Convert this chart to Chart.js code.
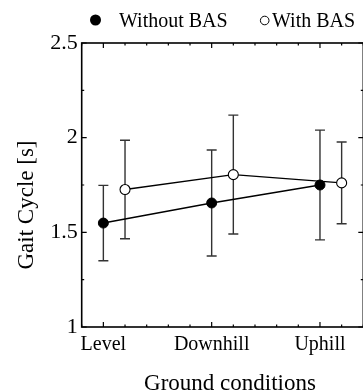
<!DOCTYPE html>
<html>
<head>
<meta charset="utf-8">
<script src="https://cdn.jsdelivr.net/npm/chart.js@4"></script>
<style>
html,body{margin:0;padding:0;background:#fff;overflow:hidden;width:363px;height:392px;}
canvas{display:block;}
</style>
</head>
<body>
<canvas id="c" width="370" height="392"></canvas>
<script>
const categories = ['Level', 'Downhill', 'Uphill'];
const withoutMean = [1.549, 1.655, 1.750];
const withoutSD = [0.199, 0.280, 0.290];
const withMean = [1.726, 1.805, 1.761];
const withSD = [0.260, 0.314, 0.216];
const yTickLabels = [1, 1.5, 2, 2.5];
const seriesNames = ['Without BAS', 'With BAS'];

const SERIF = '"Liberation Serif", "Times New Roman", serif';
const OFFSET = 0.2;

function pts(means, off) { return means.map((m, i) => ({ x: i + 1 + off, y: m })); }

const decor = {
  id: 'decor',
  beforeDatasetsDraw(chart) {
    const ctx = chart.ctx, xs = chart.scales.x, ys = chart.scales.y;
    ctx.save();
    ctx.strokeStyle = '#333';
    ctx.lineWidth = 1.4;
    const sets = [[withoutMean, withoutSD, 0], [withMean, withSD, OFFSET]];
    sets.forEach(([m, s, off]) => {
      m.forEach((v, i) => {
        const px = xs.getPixelForValue(i + 1 + off);
        const t = ys.getPixelForValue(v + s[i]);
        const b = ys.getPixelForValue(v - s[i]);
        ctx.beginPath();
        ctx.moveTo(px, t); ctx.lineTo(px, b);
        ctx.moveTo(px - 5, t); ctx.lineTo(px + 5, t);
        ctx.moveTo(px - 5, b); ctx.lineTo(px + 5, b);
        ctx.stroke();
      });
    });
    ctx.restore();
  },
  afterDraw(chart) {
    const ctx = chart.ctx, xs = chart.scales.x, ys = chart.scales.y;
    const a = chart.chartArea;
    ctx.save();
    ctx.strokeStyle = '#000';
    ctx.lineWidth = 1.6;
    ctx.strokeRect(a.left, a.top, a.right - a.left, a.bottom - a.top);
    ctx.lineWidth = 1.2;
    ctx.beginPath();
    // x ticks
    for (let k = 0; k <= 13; k++) {
      const v = 0.8 + k * 0.2;
      const major = Math.abs(v - Math.round(v)) < 1e-6;
      const L = major ? 5 : 2.5;
      const px = xs.getPixelForValue(v);
      ctx.moveTo(px, a.bottom); ctx.lineTo(px, a.bottom - L);
      ctx.moveTo(px, a.top); ctx.lineTo(px, a.top + L);
    }
    for (let k = 0; k <= 6; k++) {
      const v = 1 + k * 0.25;
      const major = k % 2 === 0;
      const L = major ? 5 : 2.5;
      const py = ys.getPixelForValue(v);
      ctx.moveTo(a.left, py); ctx.lineTo(a.left + L, py);
      ctx.moveTo(a.right, py); ctx.lineTo(a.right - L, py);
    }
    ctx.stroke();

    // legend
    ctx.fillStyle = '#000';
    ctx.beginPath(); ctx.arc(95.5, 20, 5.5, 0, Math.PI * 2); ctx.fill();
    ctx.lineWidth = 1;
    ctx.beginPath(); ctx.arc(264.7, 20.5, 4.3, 0, Math.PI * 2); ctx.stroke();
    ctx.font = '20px ' + SERIF;
    ctx.textAlign = 'left';
    ctx.textBaseline = 'alphabetic';
    ctx.fillText(seriesNames[0], 119, 27);
    ctx.fillText(seriesNames[1], 272, 27);

    // axis titles
    ctx.font = '23px ' + SERIF;
    ctx.textAlign = 'center';
    ctx.fillText('Ground conditions', 230, 390);
    ctx.translate(33, 205);
    ctx.rotate(-Math.PI / 2);
    ctx.fillText('Gait Cycle [s]', 0, 0);
    ctx.restore();
  }
};

new Chart(document.getElementById('c'), {
  type: 'scatter',
  data: {
    datasets: [
      {
        label: seriesNames[0],
        data: pts(withoutMean, 0),
        showLine: true,
        borderColor: '#000',
        borderWidth: 1.4,
        pointBackgroundColor: '#000',
        pointBorderColor: '#000',
        pointRadius: 5,
        pointBorderWidth: 1,
        pointHoverRadius: 5
      },
      {
        label: seriesNames[1],
        data: pts(withMean, OFFSET),
        showLine: true,
        borderColor: '#000',
        borderWidth: 1.4,
        pointBackgroundColor: '#fff',
        pointBorderColor: '#000',
        pointRadius: 5,
        pointBorderWidth: 1.1,
        pointHoverRadius: 5
      }
    ]
  },
  options: {
    responsive: false,
    animation: false,
    devicePixelRatio: 1,
    layout: { padding: { left: 0, right: 6.7, top: 43, bottom: 0 } },
    plugins: { legend: { display: false }, tooltip: { enabled: false } },
    scales: {
      x: {
        type: 'linear',
        min: 0.8, max: 3.4,
        grid: { display: false, drawTicks: false },
        border: { display: false },
        afterBuildTicks: s => { s.ticks = categories.map((c, i) => ({ value: i + 1 })); },
        afterFit: s => { s.height = 65; },
        ticks: {
          autoSkip: false, maxRotation: 0,
          padding: 6,
          color: '#000',
          font: { family: SERIF, size: 20 },
          callback: v => categories[Math.round(v) - 1] || ''
        }
      },
      y: {
        min: 1, max: 2.5,
        grid: { display: false, drawTicks: false },
        border: { display: false },
        afterBuildTicks: s => { s.ticks = yTickLabels.map(v => ({ value: v })); },
        afterFit: s => { s.width = 81.7; },
        ticks: {
          padding: 4,
          color: '#000',
          font: { family: SERIF, size: 22 },
          callback: v => String(v)
        }
      }
    }
  },
  plugins: [decor]
});
</script>
</body>
</html>
